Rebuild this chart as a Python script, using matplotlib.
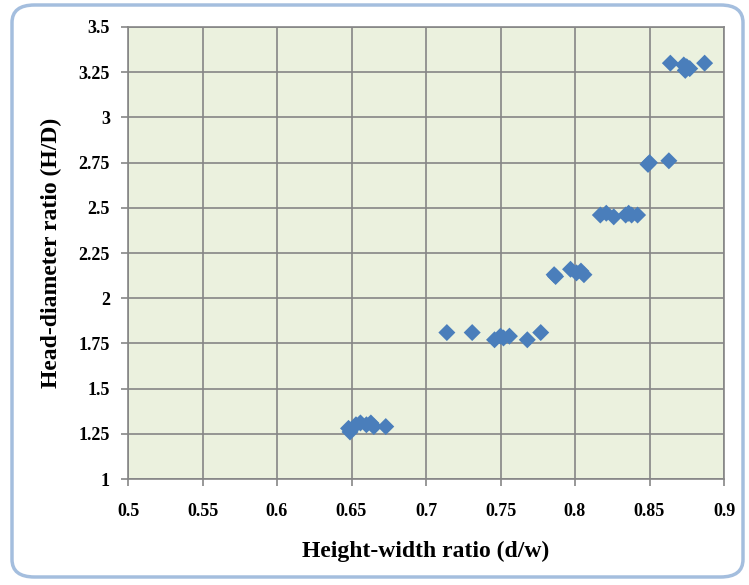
import matplotlib
matplotlib.use("Agg")
import matplotlib.pyplot as plt
from matplotlib.patches import FancyBboxPatch

x_vals = [0.648, 0.649, 0.653, 0.656, 0.660, 0.663, 0.665, 0.673,
          0.714, 0.731, 0.746, 0.750, 0.752, 0.756, 0.768, 0.777,
          0.786, 0.787, 0.797, 0.801, 0.804, 0.806,
          0.817, 0.821, 0.826, 0.834, 0.836, 0.838, 0.842,
          0.849, 0.850, 0.863,
          0.864, 0.873, 0.874, 0.875, 0.877, 0.887]
y_vals = [1.28, 1.26, 1.30, 1.31, 1.30, 1.31, 1.29, 1.29,
          1.81, 1.81, 1.77, 1.79, 1.78, 1.79, 1.77, 1.81,
          2.13, 2.12, 2.16, 2.14, 2.15, 2.13,
          2.46, 2.47, 2.45, 2.46, 2.47, 2.46, 2.46,
          2.74, 2.75, 2.76,
          3.30, 3.29, 3.26, 3.28, 3.27, 3.30]

x_ticks = [0.5, 0.55, 0.6, 0.65, 0.7, 0.75, 0.8, 0.85, 0.9]
x_tick_labels = ["0.5", "0.55", "0.6", "0.65", "0.7", "0.75", "0.8", "0.85", "0.9"]
y_ticks = [1, 1.25, 1.5, 1.75, 2, 2.25, 2.5, 2.75, 3, 3.25, 3.5]
y_tick_labels = ["1", "1.25", "1.5", "1.75", "2", "2.25", "2.5", "2.75", "3", "3.25", "3.5"]

serif = ["Liberation Serif", "DejaVu Serif"]

fig = plt.figure(figsize=(7.49, 5.85), dpi=100)
fig.patch.set_facecolor("white")

border = FancyBboxPatch((12 / 749, 8 / 585), 731 / 749, 572 / 585,
                        boxstyle="round,pad=0,rounding_size=0.03",
                        transform=fig.transFigure, facecolor="none",
                        edgecolor="#A4BEDE", linewidth=2.5, zorder=-1)
fig.patches.append(border)

ax = fig.add_axes([128 / 749, 1 - 479 / 585, 596 / 749, 452 / 585])
ax.set_zorder(1)
ax.set_facecolor("#EBF1DE")
ax.set_xlim(0.5, 0.9)
ax.set_ylim(1, 3.5)
ax.set_xticks(x_ticks)
ax.set_xticklabels(x_tick_labels)
ax.set_yticks(y_ticks)
ax.set_yticklabels(y_tick_labels)
ax.grid(True, color="#868686", linewidth=1.2)
ax.set_axisbelow(True)
for s in ax.spines.values():
    s.set_color("#868686")
    s.set_linewidth(1.2)
ax.tick_params(axis="both", length=5, color="#868686", width=1.2)
ax.tick_params(axis="x", pad=12)
ax.tick_params(axis="y", pad=8)
for lab in ax.get_xticklabels() + ax.get_yticklabels():
    lab.set_fontfamily(serif)
    lab.set_fontweight("bold")
    lab.set_fontsize(13)

ax.scatter(x_vals, y_vals, marker="D", s=75, color="#4A7EBB", edgecolors="none", zorder=3)

ax.set_xlabel("Height-width ratio (d/w)", fontfamily=serif, fontweight="bold", fontsize=17, labelpad=15)
ax.set_ylabel("Head-diameter ratio (H/D)", fontfamily=serif, fontweight="bold", fontsize=17, labelpad=12)

fig.savefig("out.png", dpi=100)
